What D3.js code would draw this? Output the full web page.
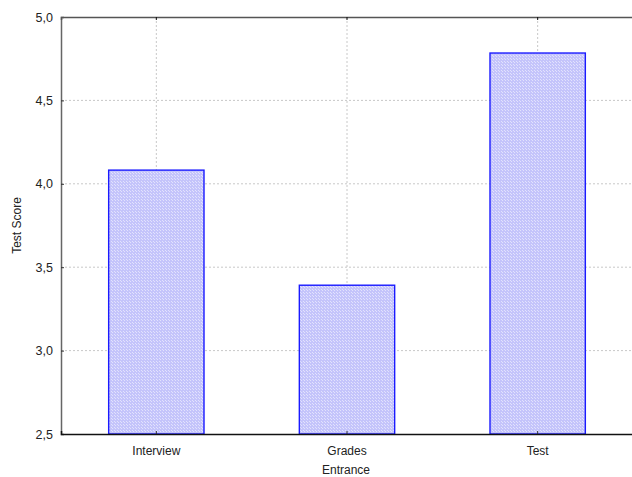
<!DOCTYPE html>
<html>
<head>
<meta charset="utf-8">
<script src="https://cdn.jsdelivr.net/npm/d3@7"></script>
<style>
  body { margin: 0; background: #fff; overflow: hidden; }
  text { font-family: "Liberation Sans", Arial, sans-serif; }
</style>
</head>
<body>
<div id="chart"></div>
<script>
// data
const categories = ["Interview", "Grades", "Test"]
const scores = [4.082, 3.392, 4.784]
const yTicks = [2.5, 3.0, 3.5, 4.0, 4.5, 5.0]

const width = 632, height = 477
const margin = { top: 17, right: 0, bottom: 43, left: 61 }
const innerW = 633 - margin.left
const innerH = height - margin.top - margin.bottom

const svg = d3.select("#chart").append("svg")
    .attr("width", width)
    .attr("height", height)
    .style("display", "block")

// checker fill like the original
const defs = svg.append("defs")
const pat = defs.append("pattern")
    .attr("id", "checker")
    .attr("width", 3).attr("height", 3)
    .attr("patternUnits", "userSpaceOnUse")
pat.append("rect").attr("width", 3).attr("height", 3).attr("fill", "#c4c4fb")
pat.append("rect").attr("width", 1).attr("height", 1).attr("fill", "#e2e2fd")
pat.append("rect").attr("x", 2).attr("y", 2).attr("width", 1).attr("height", 1).attr("fill", "#e2e2fd")

const g = svg.append("g").attr("transform", `translate(${margin.left},${margin.top})`)

const x = d3.scaleBand().domain(categories).range([0, innerW]).paddingInner(0).paddingOuter(0)
const y = d3.scaleLinear().domain([2.5, 5.0]).range([innerH, 0])

const fmt = d => d3.format(".1f")(d).replace(".", ",")

// grid
g.append("g").selectAll("line.h")
    .data(yTicks.filter(d => d > 2.5 && d < 5))
    .enter().append("line")
    .attr("x1", 0).attr("x2", innerW)
    .attr("y1", d => y(d)).attr("y2", d => y(d))
    .attr("stroke", "#c8c8c8").attr("stroke-dasharray", "2 2")

g.append("g").selectAll("line.v")
    .data(categories)
    .enter().append("line")
    .attr("x1", d => x(d) + x.bandwidth() / 2).attr("x2", d => x(d) + x.bandwidth() / 2)
    .attr("y1", 0).attr("y2", innerH)
    .attr("stroke", "#c8c8c8").attr("stroke-dasharray", "2 2")

// bars
const barW = x.bandwidth() / 2
g.append("g").selectAll("rect")
    .data(scores)
    .enter().append("rect")
    .attr("x", (d, i) => x(categories[i]) + (x.bandwidth() - barW) / 2)
    .attr("y", d => y(d))
    .attr("width", barW)
    .attr("height", d => innerH - y(d))
    .attr("fill", "url(#checker)")
    .attr("stroke", "#1a1aff")
    .attr("stroke-width", 1.4)

// axes
const yAxis = g.append("g")
    .call(d3.axisLeft(y).tickValues(yTicks).tickFormat(fmt).tickSize(-3).tickPadding(8))
yAxis.select(".domain").attr("stroke", "#666").attr("stroke-width", 1.5)
yAxis.selectAll(".tick line").attr("stroke", "#333")
yAxis.selectAll("text").attr("font-size", 12.5).attr("fill", "#222")

const xAxis = g.append("g").attr("transform", `translate(0,${innerH})`)
    .call(d3.axisBottom(x).tickSize(-3).tickPadding(12))
xAxis.select(".domain").attr("stroke", "#111").attr("stroke-width", 1.5)
xAxis.selectAll(".tick line").attr("stroke", "#333")
xAxis.selectAll("text").attr("font-size", 12).attr("fill", "#222")

const topAxis = g.append("g")
    .call(d3.axisTop(x).tickSize(-3).tickFormat(""))
topAxis.select(".domain").attr("stroke", "#555").attr("stroke-width", 1.5)
topAxis.selectAll(".tick line").attr("stroke", "#111")

// titles
svg.append("text")
    .attr("x", margin.left + innerW / 2 - 1)
    .attr("y", 474)
    .attr("text-anchor", "middle")
    .attr("font-size", 12)
    .attr("fill", "#222")
    .text("Entrance")

svg.append("text")
    .attr("transform", `translate(21,${margin.top + innerH / 2}) rotate(-90)`)
    .attr("text-anchor", "middle")
    .attr("font-size", 12)
    .attr("fill", "#222")
    .text("Test Score")
</script>
</body>
</html>
